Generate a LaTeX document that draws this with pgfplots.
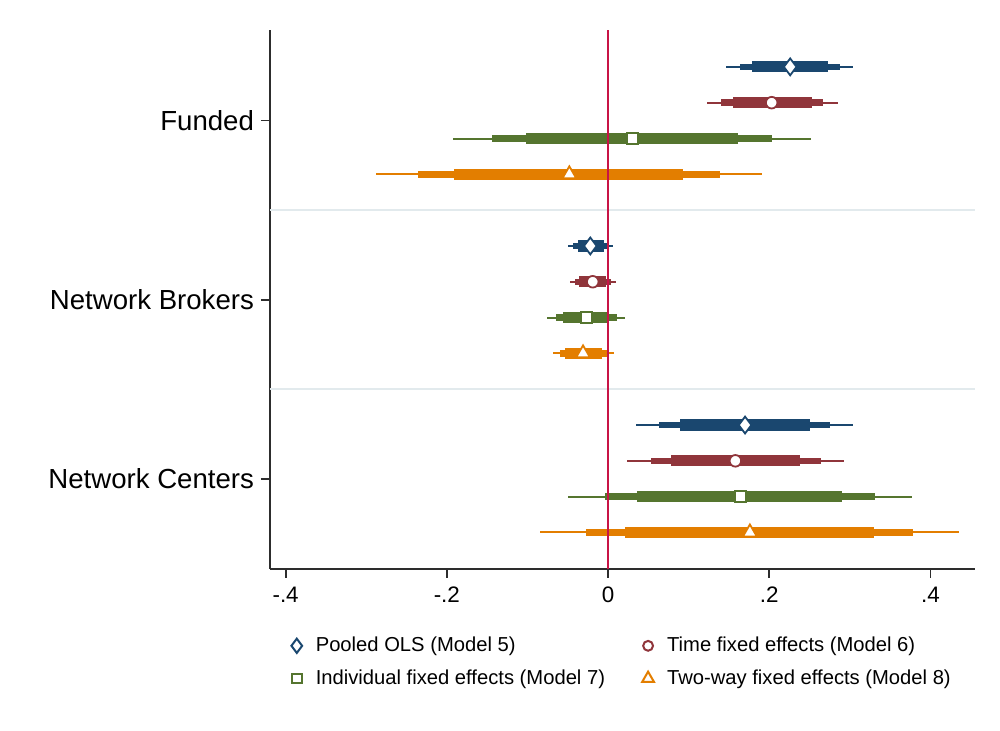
\documentclass[border=0pt]{standalone}
\usepackage{pgfplots}
\usepackage{pgfplotstable}
\pgfplotsset{compat=1.18}
\usepackage{fontspec}
\setmainfont{Liberation Sans}
\definecolor{cnavy}{RGB}{26,71,111}
\definecolor{cmaroon}{RGB}{144,53,59}
\definecolor{cgreen}{RGB}{85,117,47}
\definecolor{corange}{RGB}{227,126,0}
\definecolor{czero}{RGB}{200,20,70}
\definecolor{cgrid}{RGB}{226,234,237}
\definecolor{caxis}{RGB}{45,45,45}

% y b l1 h1 (thin) l2 h2 (medium) l3 h3 (thick)
\pgfplotstableread{
y b l1 h1 l2 h2 l3 h3
0 0.226 0.146 0.304 0.164 0.288 0.179 0.273
-5 -0.022 -0.050 0.006 -0.043 0.001 -0.037 -0.005
-10 0.170 0.035 0.304 0.063 0.275 0.089 0.251
}\mfive
\pgfplotstableread{
y b l1 h1 l2 h2 l3 h3
-1 0.203 0.123 0.285 0.140 0.267 0.155 0.253
-6 -0.019 -0.047 0.010 -0.041 0.004 -0.036 -0.002
-11 0.158 0.024 0.293 0.053 0.264 0.078 0.238
}\msix
\pgfplotstableread{
y b l1 h1 l2 h2 l3 h3
-2 0.030 -0.192 0.252 -0.144 0.203 -0.102 0.161
-7 -0.027 -0.076 0.021 -0.065 0.011 -0.056 0.001
-12 0.164 -0.050 0.377 -0.004 0.331 0.036 0.290
}\mseven
\pgfplotstableread{
y b l1 h1 l2 h2 l3 h3
-3 -0.048 -0.288 0.191 -0.236 0.139 -0.191 0.093
-8 -0.031 -0.068 0.007 -0.060 0.000 -0.053 -0.007
-13 0.176 -0.084 0.435 -0.027 0.378 0.021 0.330
}\meight

\newcommand{\ciplot}[4]{% table, color, level, width
  \addplot[only marks, mark=none, forget plot,
    error bars/.cd, x dir=both, x explicit, error mark=none,
    error bar style={line width=#4, draw=#2, solid}]
    table[x=b, y=y, x error plus expr=\thisrow{h#3}-\thisrow{b},
          x error minus expr=\thisrow{b}-\thisrow{l#3}] {#1};}
\newcommand{\ciall}[2]{\ciplot{#1}{#2}{1}{1pt}\ciplot{#1}{#2}{2}{3.2pt}\ciplot{#1}{#2}{3}{5.6pt}}

\begin{document}
\begin{tikzpicture}
\path[use as bounding box] (-135pt,-81pt) rectangle (365pt,284.5pt);
\begin{axis}[
  scale only axis, width=352.5pt, height=269.5pt,
  xmin=-0.4194, xmax=0.4553, ymin=-14.02, ymax=1.03,
  axis x line*=bottom, axis y line*=left,
  axis line style={draw=caxis, line width=0.9pt},
  tick style={draw=caxis, line width=0.9pt},
  tick align=outside, major tick length=4.5pt,
  xtick={-0.4,-0.2,0,0.2,0.4},
  xticklabels={-.4,-.2,0,.2,.4},
  ytick={-1.5,-6.5,-11.5},
  yticklabels={Funded,Network Brokers,Network Centers},
  xticklabel style={font=\fontsize{11.2}{13}\selectfont, yshift=-1pt},
  yticklabel style={font=\fontsize{13.8}{16}\selectfont, xshift=0pt},
  extra y ticks={-4,-9}, extra y tick labels={},
  extra y tick style={major tick length=0pt, grid=major,
     grid style={draw=cgrid, line width=0.8pt}},
  clip=false,
  legend columns=2,
  legend cell align=left,
  legend style={at={(axis description cs:0.0275,-0.118)}, anchor=north west,
    draw=none, fill=none, inner sep=0pt,
    font=\fontsize{10.1}{12}\selectfont,
    row sep=3.5pt,
    /tikz/every even column/.append style={column sep=16pt}},
  legend image code/.code={\draw[#1, every mark/.append style={scale=0.85, line width=1pt}] plot coordinates {(0pt,0pt)};
     \path[draw=none] (-3.5pt,0pt) -- (7.5pt,0pt);},
]
\ciall{\mfive}{cnavy}
\ciall{\msix}{cmaroon}
\ciall{\mseven}{cgreen}
\ciall{\meight}{corange}
\addplot[czero, line width=1pt, forget plot] coordinates {(0,-14.02) (0,1.03)};
\addplot[only marks, mark=diamond*, mark size=4.2pt, mark options={fill=white, draw=cnavy, line width=0.9pt}] table[x=b,y=y] {\mfive};
\addplot[only marks, mark=*, mark size=2.9pt, mark options={fill=white, draw=cmaroon, line width=0.9pt}] table[x=b,y=y] {\msix};
\addplot[only marks, mark=square*, mark size=2.8pt, mark options={fill=white, draw=cgreen, line width=0.9pt}] table[x=b,y=y] {\mseven};
\addplot[only marks, mark=triangle*, mark size=4pt, mark options={fill=white, draw=corange, line width=0.9pt}] table[x=b,y=y] {\meight};
\legend{Pooled OLS (Model 5),Time fixed effects (Model 6),Individual fixed effects (Model 7),Two-way fixed effects (Model 8)}
\end{axis}
\end{tikzpicture}
\end{document}
